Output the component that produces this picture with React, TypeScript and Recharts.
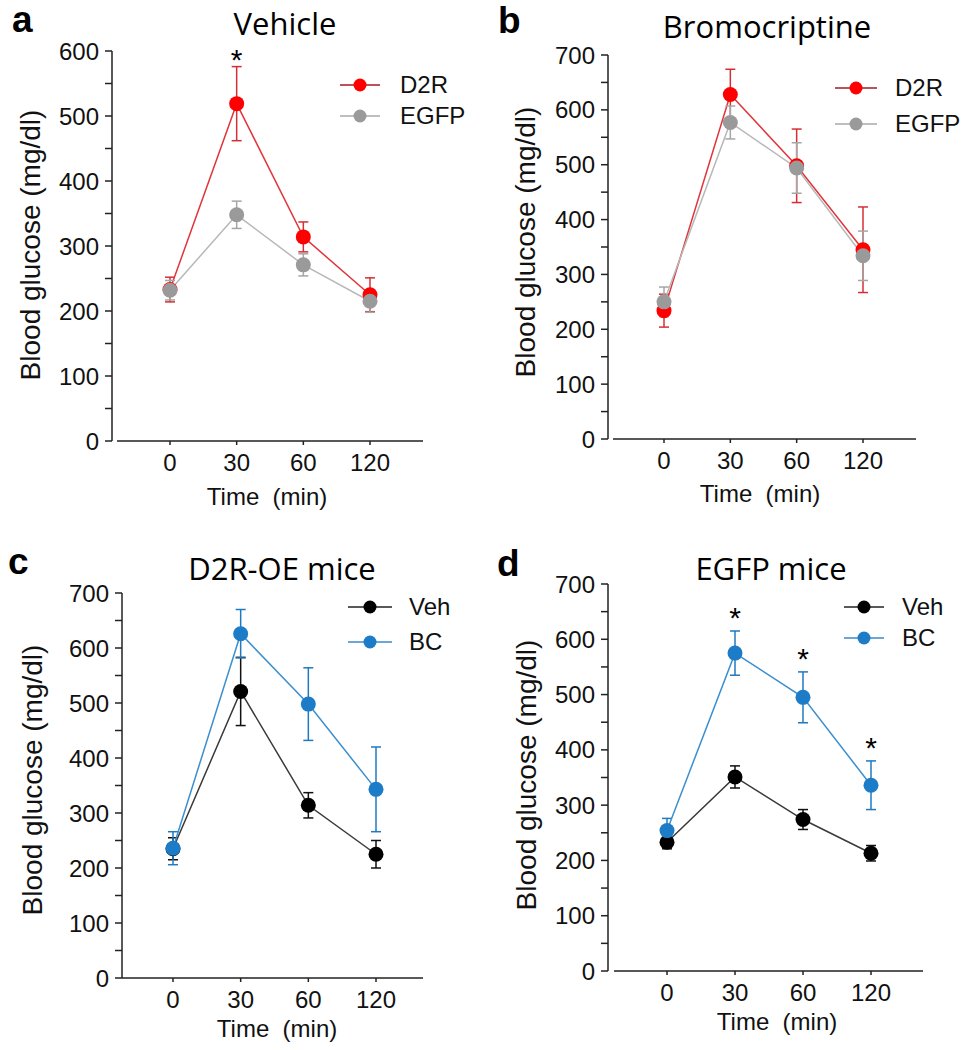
import React from 'react';
import { LineChart, Line, XAxis, YAxis, ErrorBar, Legend, LabelList } from 'recharts';

const times = ['0', '30', '60', '120'];

// a - Vehicle
const vehicleD2R = [233, 519, 314, 225];
const vehicleD2RErr = [19, 57, 23, 26];
const vehicleEGFP = [232, 348, 271, 215];
const vehicleEGFPErr = [15, 21, 17, 17];
const vehicleSig = [false, true, false, false];

// b - Bromocriptine
const bromoD2R = [234, 628, 498, 345];
const bromoD2RErr = [30, 46, 67, 78];
const bromoEGFP = [250, 577, 494, 334];
const bromoEGFPErr = [27, 30, 46, 45];

// c - D2R-OE mice
const d2rVeh = [235, 521, 314, 225];
const d2rVehErr = [20, 62, 23, 25];
const d2rBC = [236, 626, 498, 343];
const d2rBCErr = [30, 44, 66, 77];

// d - EGFP mice
const egfpVeh = [233, 351, 274, 213];
const egfpVehErr = [12, 20, 18, 14];
const egfpBC = [254, 575, 495, 336];
const egfpBCErr = [22, 40, 46, 44];
const egfpSig = [false, true, true, true];

const ticks600 = [0, 50, 100, 150, 200, 250, 300, 350, 400, 450, 500, 550, 600];
const ticks700 = [0, 50, 100, 150, 200, 250, 300, 350, 400, 450, 500, 550, 600, 650, 700];

const FONT = '"Liberation Sans", Arial, sans-serif';
const TITLE_FONT = '"Open Sans", "Noto Sans", sans-serif';
const AX = '#222';
const TXT = '#111';

const RED = { dot: '#ff0000', line: '#e0353b', err: '#d42f35', legend: '#a01c22' };
const GRAY = { dot: '#9a9a9a', line: '#b8b8b8', err: '#a6a6a6', legend: '#a8a8a8' };
const BLACK = { dot: '#000000', line: '#3a3a3a', err: '#111111', legend: '#222222' };
const BLUE = { dot: '#1c7cc7', line: '#3c8fcf', err: '#1f7ac0', legend: '#3a8acb' };

type Series = { name: string; key: string; errKey: string; color: typeof RED };

function buildRows(s1: number[], e1: number[], s2: number[], e2: number[], sig?: boolean[], starOn?: 1 | 2) {
  return times.map((t, i) => {
    let star: number | null = null;
    if (sig && sig[i]) star = starOn === 1 ? s1[i] + e1[i] : s2[i] + e2[i];
    return { time: t, s1: s1[i], e1: e1[i], s2: s2[i], e2: e2[i], star };
  });
}

const panels = [
  {
    id: 'a',
    box: { left: 0, top: 0, w: 470, h: 525 },
    plot: { l: 112, r: 423, t: 51, b: 441 },
    yMax: 600, yTicks: ticks600, padL: 58, padR: 53, gap: 5,
    rows: buildRows(vehicleD2R, vehicleD2RErr, vehicleEGFP, vehicleEGFPErr, vehicleSig, 1),
    series: [
      { name: 'D2R', key: 's1', errKey: 'e1', color: RED },
      { name: 'EGFP', key: 's2', errKey: 'e2', color: GRAY },
    ] as Series[],
    legend: { x: 340, y: 85, lineW: 40, textGap: 20, rowH: 31 },
    starOffset: 14,
  },
  {
    id: 'b',
    box: { left: 485, top: 0, w: 485, h: 525 },
    plot: { l: 608, r: 916, t: 55, b: 439 },
    yMax: 700, yTicks: ticks700, padL: 56, padR: 53, gap: 5,
    rows: buildRows(bromoD2R, bromoD2RErr, bromoEGFP, bromoEGFPErr),
    series: [
      { name: 'D2R', key: 's1', errKey: 'e1', color: RED },
      { name: 'EGFP', key: 's2', errKey: 'e2', color: GRAY },
    ] as Series[],
    legend: { x: 835, y: 88, lineW: 42, textGap: 18, rowH: 36 },
    starOffset: 20,
  },
  {
    id: 'c',
    box: { left: 0, top: 525, w: 470, h: 525 },
    plot: { l: 122, r: 423, t: 593, b: 978 },
    yMax: 700, yTicks: ticks700, padL: 51, padR: 47, gap: 0,
    rows: buildRows(d2rVeh, d2rVehErr, d2rBC, d2rBCErr),
    series: [
      { name: 'Veh', key: 's1', errKey: 'e1', color: BLACK },
      { name: 'BC', key: 's2', errKey: 'e2', color: BLUE },
    ] as Series[],
    legend: { x: 348, y: 607, lineW: 44, textGap: 17, rowH: 35 },
    starOffset: 20,
  },
  {
    id: 'd',
    box: { left: 485, top: 525, w: 485, h: 525 },
    plot: { l: 608, r: 923, t: 584, b: 971 },
    yMax: 700, yTicks: ticks700, padL: 59, padR: 52, gap: 6,
    rows: buildRows(egfpVeh, egfpVehErr, egfpBC, egfpBCErr, egfpSig, 2),
    series: [
      { name: 'Veh', key: 's1', errKey: 'e1', color: BLACK },
      { name: 'BC', key: 's2', errKey: 'e2', color: BLUE },
    ] as Series[],
    legend: { x: 844, y: 607, lineW: 40, textGap: 18, rowH: 31 },
    starOffset: 20,
  },
];

// text overlay: panel letter, title, y label, x label
const letters = [
  { t: 'a', x: 12, y: 32 }, { t: 'b', x: 498, y: 33 },
  { t: 'c', x: 8, y: 574 }, { t: 'd', x: 497, y: 576 },
];
const titles = [
  { t: 'Vehicle', x: 285, y: 35 }, { t: 'Bromocriptine', x: 767, y: 38 },
  { t: 'D2R-OE mice', x: 282, y: 580 }, { t: 'EGFP mice', x: 771, y: 580 },
];
const yLabels = [
  { x: 40, y: 245 }, { x: 535, y: 242 }, { x: 42, y: 780 }, { x: 536, y: 775 },
];
const xLabels = [
  { x: 267, y: 505 }, { x: 760, y: 502 }, { x: 277, y: 1037 }, { x: 777, y: 1030 },
];

const YW = 70;
const XH = 30;

function Panel({ p }: { p: typeof panels[number] }) {
  const { box, plot } = p;
  const margin = {
    top: plot.t - box.top,
    right: box.left + box.w - plot.r,
    bottom: box.top + box.h - plot.b - XH,
    left: plot.l - box.left - YW,
  };
  const lg = p.legend;
  return (
    <div style={{ position: 'absolute', left: box.left, top: box.top }}>
      <LineChart width={box.w} height={box.h} data={p.rows} margin={margin}>
        <XAxis
          dataKey="time"
          height={XH}
          interval={0}
          padding={{ left: p.padL, right: p.padR }}
          axisLine={{ stroke: AX, strokeWidth: 1.5, strokeDasharray: p.gap ? `0 ${p.gap} 2000` : undefined }}
          tickLine={{ stroke: AX, strokeWidth: 1.5 }}
          tickSize={4}
          tickMargin={9}
          tick={{ fill: TXT, fontSize: 24, fontFamily: FONT }}
        />
        <YAxis
          type="number"
          domain={[0, p.yMax]}
          ticks={p.yTicks}
          interval={0}
          width={YW}
          allowDataOverflow
          tickFormatter={(v: number) => (v % 100 === 0 ? String(v) : '')}
          axisLine={{ stroke: AX, strokeWidth: 1.5 }}
          tickLine={{ stroke: AX, strokeWidth: 1.5 }}
          tickSize={7}
          tickMargin={6}
          tick={{ fill: TXT, fontSize: 24, fontFamily: FONT }}
        />
        <Legend
          layout="vertical"
          align="center"
          verticalAlign="middle"
          wrapperStyle={{ left: lg.x - box.left, top: lg.y - lg.rowH / 2 - box.top, width: 140 }}
          content={() => (
            <div>
              {p.series.map((s) => (
                <div key={s.name} style={{ display: 'flex', alignItems: 'center', height: lg.rowH }}>
                  <svg width={lg.lineW} height={20}>
                    <line x1={0} x2={lg.lineW} y1={10} y2={10} stroke={s.color.legend} strokeWidth={1.5} />
                    <circle cx={lg.lineW / 2} cy={10} r={6.5} fill={s.color.dot} />
                  </svg>
                  <span style={{ marginLeft: lg.textGap, fontSize: 24, fontFamily: FONT, color: TXT, lineHeight: 1 }}>
                    {s.name}
                  </span>
                </div>
              ))}
            </div>
          )}
        />
        {p.series.map((s) => (
          <Line
            key={s.key}
            dataKey={s.key}
            name={s.name}
            stroke={s.color.line}
            strokeWidth={1.5}
            dot={{ r: 7.5, fill: s.color.dot, stroke: s.color.dot, strokeWidth: 0 }}
            activeDot={false}
            isAnimationActive={false}
          >
            <ErrorBar dataKey={s.errKey} width={5} stroke={s.color.err} strokeWidth={1.5} direction="y" />
          </Line>
        ))}
        <Line
          dataKey="star"
          stroke="none"
          dot={false}
          activeDot={false}
          legendType="none"
          isAnimationActive={false}
        >
          <LabelList
            dataKey="star"
            content={(lp: any) =>
              lp.value == null || lp.y == null ? null : (
                <text x={lp.x} y={lp.y - p.starOffset + 17} textAnchor="middle" fontSize={30} fontFamily={FONT} fill="#000">
                  *
                </text>
              )
            }
          />
        </Line>
      </LineChart>
    </div>
  );
}

export default function App() {
  return (
    <div style={{ position: 'absolute', left: 0, top: 0, width: 970, height: 1050, background: '#fff' }}>
      {panels.map((p) => (
        <Panel key={p.id} p={p} />
      ))}
      <svg width={970} height={1050} style={{ position: 'absolute', left: 0, top: 0, pointerEvents: 'none' }}>
        {letters.map((l) => (
          <text key={l.t} x={l.x} y={l.y} fontSize={37} fontWeight="bold" fontFamily={FONT} fill="#000">
            {l.t}
          </text>
        ))}
        {titles.map((t) => (
          <text key={t.t} x={t.x} y={t.y} fontSize={31} fontFamily={TITLE_FONT} textAnchor="middle" fill="#000">
            {t.t}
          </text>
        ))}
        {yLabels.map((l, i) => (
          <text
            key={i}
            x={l.x}
            y={l.y}
            fontSize={28}
            fontFamily={FONT}
            textAnchor="middle"
            fill={TXT}
            transform={`rotate(-90 ${l.x} ${l.y})`}
          >
            Blood glucose (mg/dl)
          </text>
        ))}
        {xLabels.map((l, i) => (
          <text key={i} x={l.x} y={l.y} fontSize={24} fontFamily={FONT} textAnchor="middle" fill={TXT} style={{ whiteSpace: 'pre' }}>
            {'Time  (min)'}
          </text>
        ))}
      </svg>
    </div>
  );
}
